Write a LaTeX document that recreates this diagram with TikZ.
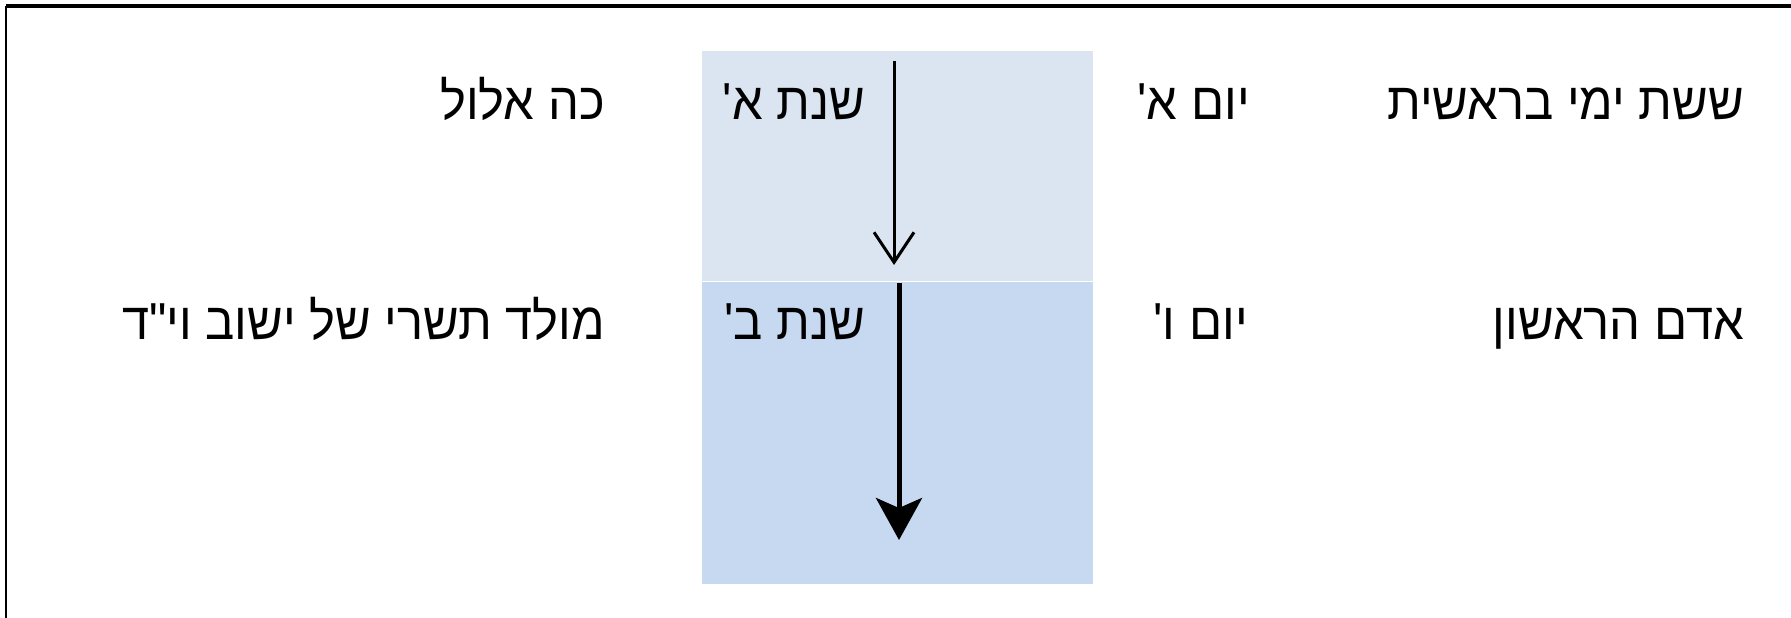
\documentclass[tikz,border=0pt]{standalone}
\usepackage{fontspec}
\usetikzlibrary{arrows.meta}
\newfontfamily\hebfont[Script=Hebrew,Ligatures=TeXOff,FakeStretch=0.94]{Liberation Sans}
\TeXXeTstate=1
\definecolor{yearAfill}{HTML}{DBE5F1}
\definecolor{yearBfill}{HTML}{C6D9F1}
\tikzset{
  heb/.style={font=\hebfont\fontsize{52}{62}\selectfont, inner sep=0pt, anchor=base east},
  yearbox/.style={minimum width=391pt, inner sep=0pt, anchor=north west},
}

\begin{document}
\begin{tikzpicture}[x=1pt,y=-1pt]
\useasboundingbox (0,0) rectangle (1791,618);

\draw[line width=3.5pt]
    (6,6) -- (1791,6);
\draw[line width=2.5pt]
    (6,6) -- (6,618);

\node[yearbox, fill=yearAfill, minimum height=230pt] (yearA) at (702,51) {};
\node[yearbox, fill=yearBfill, minimum height=302pt] (yearB) at (yearA.south west) {};

\coordinate (a1start) at (894,61);
\coordinate (a1end) at (894,265);
\coordinate (a2start) at (899,283);
\coordinate (a2end) at (899,540);

\draw[line width=3pt, -{Straight Barb[length=30pt,width=40pt]}]
    (a1start) -- (a1end);
\draw[line width=5pt, -{Stealth[length=42pt,width=46pt,inset=10pt]}]
    (a2start) -- (a2end);

\node[heb] (six) at (1744,119) {\beginR ששת ימי בראשית\endR};
\node[heb] (dayA) at (1250,119) {\beginR יום א'\endR};
\node[heb] (yearAt) at (865,119) {\beginR שנת א'\endR};
\node[heb] (elul) at (605,119) {\beginR כה אלול\endR};

\node[heb] (adam) at (1744,339) {\beginR אדם הראשון\endR};
\node[heb] (dayF) at (1248,339) {\beginR יום ו'\endR};
\node[heb] (yearBt) at (865,339) {\beginR שנת ב'\endR};
\node[heb] (molad) at (605,339) {\beginR מולד תשרי של ישוב וי"ד\endR};
\end{tikzpicture}
\end{document}
